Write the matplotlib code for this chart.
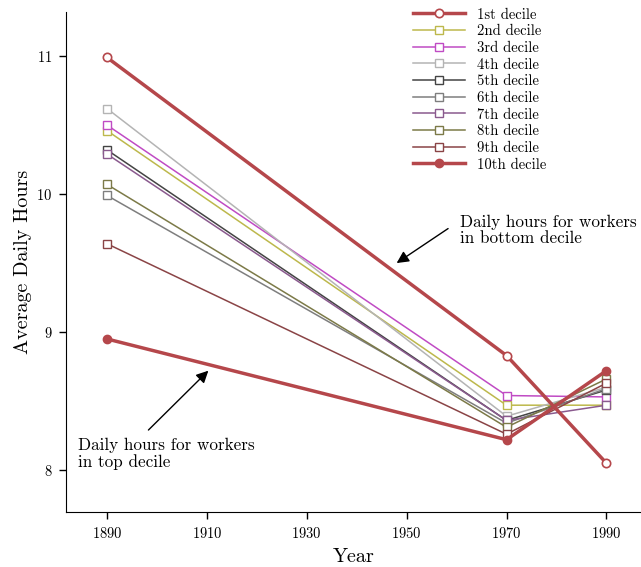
import matplotlib
matplotlib.use("Agg")
import matplotlib.pyplot as plt

plt.rcParams['font.family'] = ['cmr10', 'DejaVu Serif']
plt.rcParams['axes.formatter.use_mathtext'] = True

years = [1890, 1970, 1990]
labels = ['1st decile', '2nd decile', '3rd decile', '4th decile', '5th decile',
          '6th decile', '7th decile', '8th decile', '9th decile', '10th decile']

d1 = [10.99, 8.83, 8.05]
d2 = [10.46, 8.47, 8.47]
d3 = [10.50, 8.54, 8.53]
d4 = [10.62, 8.39, 8.60]
d5 = [10.32, 8.36, 8.58]
d6 = [9.99, 8.34, 8.59]
d7 = [10.29, 8.36, 8.47]
d8 = [10.07, 8.31, 8.66]
d9 = [9.64, 8.26, 8.63]
d10 = [8.95, 8.22, 8.72]
series = [d1, d2, d3, d4, d5, d6, d7, d8, d9, d10]

colors = ['#b5474b', '#bdb84c', '#c04bc4', '#b4b4b4', '#444444',
          '#7e7e7e', '#8a5a8e', '#7c7a48', '#8a4446', '#b5474b']

fig, ax = plt.subplots(figsize=(6.41, 5.67), dpi=100)
fig.subplots_adjust(left=0.103, right=0.999, top=0.979, bottom=0.097)

for i, (vals, lab, c) in enumerate(zip(series, labels, colors)):
    if i == 0:
        ax.plot(years, vals, color=c, lw=2.5, marker='o', ms=6,
                mfc='white', mec=c, mew=1.2, label=lab, zorder=4)
    elif i == 9:
        ax.plot(years, vals, color=c, lw=2.5, marker='o', ms=6,
                mfc=c, mec=c, label=lab, zorder=4)
    else:
        ax.plot(years, vals, color=c, lw=1.1, marker='s', ms=6,
                mfc='white', mec=c, mew=1.0, label=lab, zorder=3)

ax.set_xlim(1881.8, 1996.8)
ax.set_ylim(7.696, 11.32)
ax.set_xticks([1890, 1910, 1930, 1950, 1970, 1990])
ax.set_yticks([8, 9, 10, 11])
ax.tick_params(labelsize=10.5, length=5, width=1, pad=5)
ax.spines['top'].set_visible(False)
ax.spines['right'].set_visible(False)
ax.set_xlabel('Year', fontsize=14.5, labelpad=5)
ax.set_ylabel('Average Daily Hours', fontsize=14.5, labelpad=3)

ax.text(1960.6, 9.74, 'Daily hours for workers\nin bottom decile',
        fontsize=12.3, va='center', ha='left', linespacing=1.05)
ax.annotate('', xy=(1948.0, 9.5), xytext=(1958.3, 9.75),
            arrowprops=dict(arrowstyle='-|>', color='black', lw=1,
                            mutation_scale=18, shrinkA=0, shrinkB=0))

ax.text(1884.2, 8.12, 'Daily hours for workers\nin top decile',
        fontsize=12.3, va='center', ha='left', linespacing=1.1)
ax.annotate('', xy=(1910.3, 8.72), xytext=(1898.3, 8.29),
            arrowprops=dict(arrowstyle='-|>', color='black', lw=1,
                            mutation_scale=18, shrinkA=0, shrinkB=0))

ax.legend(loc='upper left', bbox_to_anchor=(0.6045, 1.008), frameon=False,
          fontsize=10.6, handlelength=3.5, handletextpad=0.8,
          labelspacing=0.2, borderpad=0, borderaxespad=0)

fig.savefig('out.png', dpi=100)
